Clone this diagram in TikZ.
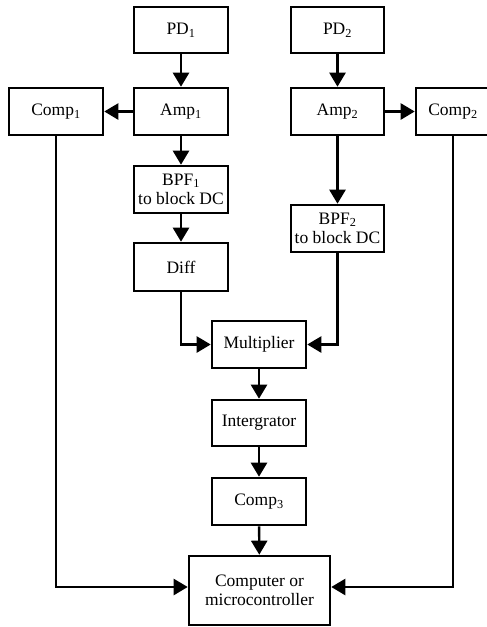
\documentclass[tikz,border=0pt]{standalone}
\usepackage{fontspec}
\setmainfont{Liberation Serif}
\usetikzlibrary{arrows.meta}
\begin{document}
\begin{tikzpicture}[x=1pt,y=-1pt,
  blk/.style={draw,line width=2.6pt,minimum width=94pt,minimum height=47pt,inner sep=0pt,align=center,font=\fontsize{17.5}{19.5}\selectfont},
  arr/.style={line width=2.4pt,-{Triangle[length=14pt,width=16pt]}}]
\clip (0,0) rectangle (487,627);
\node[blk,minimum height=46pt] (pd1) at (181,30) {PD\textsubscript{1}};
\node[blk,minimum width=93pt,minimum height=46pt] (pd2) at (337.5,30) {PD\textsubscript{2}};
\node[blk] (amp1) at (181,111.5) {Amp\textsubscript{1}};
\node[blk,minimum width=93pt] (amp2) at (337.5,111.5) {Amp\textsubscript{2}};
\node[blk] (comp1) at (56,111.5) {Comp\textsubscript{1}};
\node[blk,minimum width=74pt] (comp2) at (453,111.5) {Comp\textsubscript{2}};
\node[blk] (bpf1) at (181,189.5) {BPF\textsubscript{1}\\to block DC};
\node[blk,minimum width=93pt] (bpf2) at (337.5,228.5) {BPF\textsubscript{2}\\to block DC};
\node[blk,minimum height=48pt] (diff) at (181,267) {Diff};
\node[blk] (mult) at (259,344.5) {Multiplier};
\node[blk,minimum height=46pt] (integ) at (259,423) {Intergrator};
\node[blk] (comp3) at (259,501.5) {Comp\textsubscript{3}};
\node[blk,minimum width=141pt,minimum height=69pt] (comp) at (259.5,590.5) {Computer or\\microcontroller};
\draw[arr] (pd1) -- (amp1);
\draw[arr] (pd2) -- (amp2);
\draw[arr] (amp1) -- (comp1);
\draw[arr] (amp2) -- (comp2);
\draw[arr] (amp1) -- (bpf1);
\draw[arr] (amp2) -- (bpf2);
\draw[arr] (bpf1) -- (diff);
\draw[arr] (diff.south) |- (mult.west);
\draw[arr] (bpf2.south) |- (mult.east);
\draw[arr] (mult) -- (integ);
\draw[arr] (integ) -- (comp3);
\draw[arr] (comp3) -- (comp);
\draw[arr] (comp1.south) |- ([yshift=3.5pt]comp.west);
\draw[arr] (comp2.south) |- ([yshift=3.5pt]comp.east);
\end{tikzpicture}
\end{document}
